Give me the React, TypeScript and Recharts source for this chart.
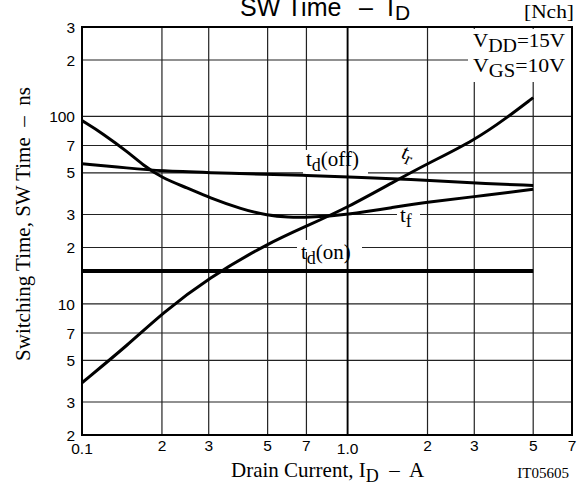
import React from 'react';
import {
  LineChart,
  Line,
  XAxis,
  YAxis,
  CartesianGrid,
  ReferenceLine,
  ReferenceArea,
} from 'recharts';

// tick positions (log axes) and the labels printed under them
const xTicks = [0.1, 0.2, 0.3, 0.5, 0.7, 1, 2, 3, 5, 7];
const xTickLabels = ['0.1', '2', '3', '5', '7', '1.0', '2', '3', '5', '7'];
const yTicks = [2, 3, 5, 7, 10, 20, 30, 50, 70, 100, 200, 300];
const yTickLabels = ['2', '3', '5', '7', '10', '2', '3', '5', '7', '100', '2', '3'];

// drain current, A
const tdOnCurrent = [0.1, 5];
const tdOffCurrent = [0.1, 0.15, 0.2, 0.3, 0.5, 0.7, 1, 1.5, 2, 3, 5];
const tfCurrent = [0.1, 0.12, 0.15, 0.17, 0.2, 0.25, 0.3, 0.4, 0.5, 0.6, 0.7, 1, 1.5, 2, 3, 5];
const trCurrent = [0.1, 0.15, 0.2, 0.3, 0.5, 0.7, 1, 1.5, 2, 3, 4, 5];

// switching time, ns
const tdOnTime = [15, 15];
const tdOffTime = [56, 53, 51.2, 50.2, 49, 48.5, 47.6, 46.5, 45.6, 44.2, 42.8];
const tfTime = [95, 81, 64, 55, 47, 41.5, 37, 32, 29.6, 29, 28.9, 29.9, 32.8, 35, 37.3, 40.9];
const trTime = [3.8, 6.1, 8.9, 13.8, 21, 26, 32.7, 45, 56, 74.5, 99, 126];

const pairs = (xs: number[], ys: number[]) => xs.map((x, i) => ({ x, y: ys[i] }));

const tdOn = pairs(tdOnCurrent, tdOnTime);
const tdOff = pairs(tdOffCurrent, tdOffTime);
const tf = pairs(tfCurrent, tfTime);
const tr = pairs(trCurrent, trTime);

const SANS = '"Liberation Sans", Arial, sans-serif';
const SERIF = '"Liberation Serif", "Times New Roman", serif';

const XTick = ({ x, y, payload, index }: any) => {
  const label = xTickLabels[index] ?? String(payload.value);
  const drop = label.includes('.') ? 3 : 0;
  return (
    <text x={x} y={y + drop} dy="0.71em" textAnchor="middle" fill="#000" fontSize={15.5} fontFamily={SANS}>
      {label}
    </text>
  );
};

const YTick = ({ x, y, index, payload }: any) => {
  const label = yTickLabels[index] ?? String(payload.value);
  return (
    <text x={x} y={y} dy="0.36em" textAnchor="end" fill="#000" fontSize={15.5} fontFamily={SANS}>
      {label}
    </text>
  );
};

const curve = (data: { x: number; y: number }[], key: string, width = 3, kind: any = 'monotone') => (
  <Line
    key={key}
    data={data}
    dataKey="y"
    type={kind}
    stroke="#000"
    strokeWidth={width}
    dot={false}
    activeDot={false}
    isAnimationActive={false}
  />
);

export default function App() {
  return (
    <div style={{ position: 'absolute', left: 0, top: 0, width: 578, height: 484, background: '#fff' }}>
      <LineChart width={578} height={484} margin={{ top: 27, right: 6, bottom: 0, left: 0 }}>
        <CartesianGrid stroke="#222" strokeWidth={1.2} />
        <XAxis
          type="number"
          dataKey="x"
          scale="log"
          domain={[0.1, 7]}
          ticks={xTicks}
          interval={0}
          allowDataOverflow
          height={49}
          tickSize={0}
          tickMargin={5}
          tickLine={false}
          axisLine={false}
          tick={<XTick />}
        />
        <YAxis
          type="number"
          dataKey="y"
          scale="log"
          domain={[2, 300]}
          ticks={yTicks}
          interval={0}
          allowDataOverflow
          width={82}
          tickSize={0}
          tickMargin={7}
          tickLine={false}
          axisLine={false}
          tick={<YTick />}
        />
        <ReferenceLine x={1} stroke="#000" strokeWidth={1.8} />
        <ReferenceArea x1={0.1} x2={7} y1={2} y2={300} fill="none" stroke="#000" strokeWidth={2} fillOpacity={0} />

        {/* white patches behind the annotations */}
        <rect x={468} y={29} width={103} height={53} fill="#fff" />
        <rect x={303} y={150} width={65} height={24} fill="#fff" />
        <rect x={297} y={240} width={65} height={12} fill="#fff" />
        <rect x={397} y={206} width={23} height={16} fill="#fff" />

        {curve(tdOn, 'tdOn', 4)}
        {curve(tdOff, 'tdOff', 3, 'basis')}
        {curve(tf, 'tf', 3, 'basis')}
        {curve(tr, 'tr', 3, 'basis')}

        {/* title */}
        <text y={16} fill="#000" fontFamily={SANS} fontSize={25}>
          <tspan x={240}>SW Time</tspan>
          <tspan x={359}>–</tspan>
          <tspan x={387}>I</tspan>
          <tspan x={395} dy={4} fontSize={21}>D</tspan>
        </text>
        <text x={574} y={18} textAnchor="end" fill="#000" fontFamily={SERIF} fontSize={19} textLength={50} lengthAdjust="spacingAndGlyphs">
          [Nch]
        </text>

        {/* test conditions */}
        <text x={473} y={47} fill="#000" fontFamily={SERIF} fontSize={19} textLength={92} lengthAdjust="spacingAndGlyphs">
          V<tspan dy={5} fontSize={18}>DD</tspan>
          <tspan dy={-5}>=15V</tspan>
        </text>
        <text x={473} y={72} fill="#000" fontFamily={SERIF} fontSize={19} textLength={92} lengthAdjust="spacingAndGlyphs">
          V<tspan dy={5} fontSize={18}>GS</tspan>
          <tspan dy={-5}>=10V</tspan>
        </text>

        {/* curve labels */}
        <text x={306} y={166} fill="#000" fontFamily={SERIF} fontSize={21}>
          t<tspan dy={5} fontSize={18}>d</tspan>
          <tspan dy={-5}>(off)</tspan>
        </text>
        <text x={301} y={259} fill="#000" fontFamily={SERIF} fontSize={21}>
          t<tspan dy={5} fontSize={18}>d</tspan>
          <tspan dy={-5}>(on)</tspan>
        </text>
        <text x={400} y={222} fill="#000" fontFamily={SERIF} fontSize={21}>
          t<tspan dy={5} fontSize={18}>f</tspan>
        </text>
        <text x={400} y={157} fill="#000" fontFamily={SERIF} fontSize={21} transform="rotate(25 400 157)">
          t<tspan dy={4} fontSize={18}>r</tspan>
        </text>

        {/* axis titles */}
        <text
          x={-224}
          y={30}
          transform="rotate(-90)"
          textAnchor="middle"
          fill="#000"
          fontFamily={SERIF}
          fontSize={21}
          style={{ whiteSpace: 'pre' }}
        >
          {'Switching Time, SW Time  –  ns'}
        </text>
        <text x={231} y={477} fill="#000" fontFamily={SERIF} fontSize={21} style={{ whiteSpace: 'pre' }}>
          {'Drain Current, I'}
          <tspan dy={5} fontSize={18}>D</tspan>
          <tspan dy={-5}>{'  –  A'}</tspan>
        </text>
        <text x={569} y={478} textAnchor="end" fill="#000" fontFamily={SERIF} fontSize={15}>
          IT05605
        </text>
      </LineChart>
    </div>
  );
}
